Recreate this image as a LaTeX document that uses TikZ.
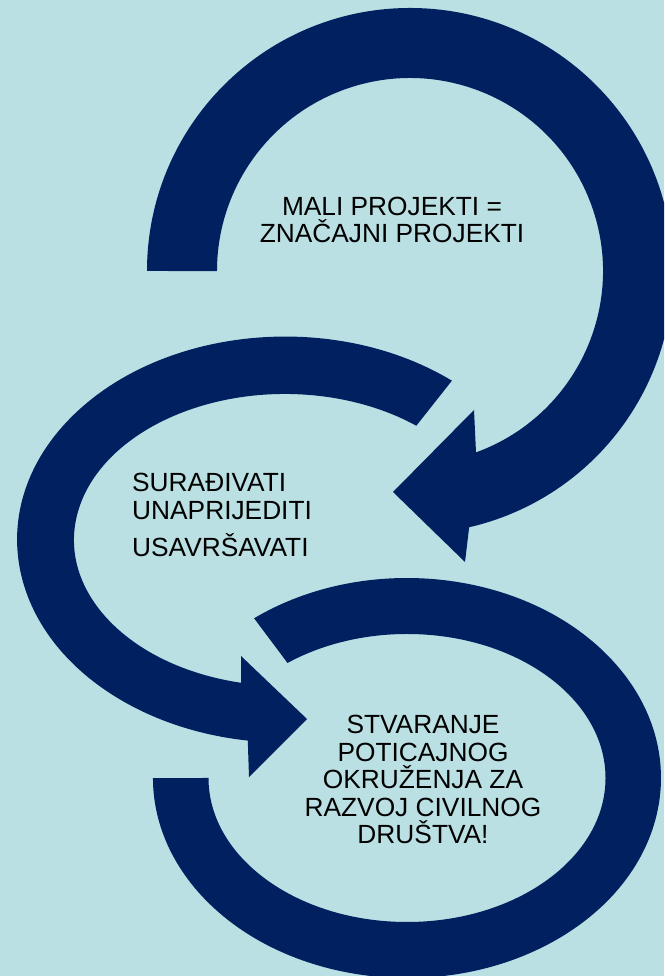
\documentclass[tikz,border=0pt]{standalone}
\usepackage{fontspec}
\setmainfont{Liberation Sans}
\usepackage{tikz}
\definecolor{bgaqua}{HTML}{BAE0E3}
\definecolor{navyarrow}{HTML}{002060}

\begin{document}
\begin{tikzpicture}[x=1pt, y=1pt,
    arrowband/.style={fill=navyarrow, draw=none},
    txtblock/.style={font=\fontsize{26.3}{27.5}\selectfont, inner sep=0pt}]
    \fill[bgaqua] (0,0) rectangle (664,976);
    \useasboundingbox (0,0) rectangle (664,976);
    \clip (0,0) rectangle (664,976);

    % top arrow
    \fill[arrowband] (147,705) arc[start angle=180, end angle=-77, radius=263]
        -- (465,414) -- (393,484) -- (474,566) -- (476,523.6)
        arc[start angle=-70, end angle=180, radius=193] -- cycle;
    % middle arrow
    \fill[arrowband] (451.9,595.3) arc[start angle=51.5, end angle=262, x radius=268, y radius=203]
        -- (249,199) -- (307,257) -- (241,320) -- (241.1,293.2)
        arc[start angle=258, end angle=51.5, x radius=211, y radius=146] -- cycle;
    % bottom arc
    \fill[arrowband] (254.1,357.7) arc[start angle=127, end angle=-180, x radius=254, y radius=200]
        -- (208.5,198)
        arc[start angle=-180, end angle=127, x radius=198.5, y radius=144] -- cycle;

    \node[txtblock, anchor=base, align=center] (mali) at (392,733)
        {MALI PROJEKTI =\\ZNAČAJNI PROJEKTI};
    \node[txtblock, anchor=base west, align=left] (suradivati) at (132,419)
        {SURAĐIVATI\\UNAPRIJEDITI\\[10pt]USAVRŠAVATI};
    \node[txtblock, anchor=base, align=center] (stvaranje) at (423,132)
        {STVARANJE\\POTICAJNOG\\OKRUŽENJA ZA\\RAZVOJ CIVILNOG\\DRUŠTVA!};
\end{tikzpicture}
\end{document}
